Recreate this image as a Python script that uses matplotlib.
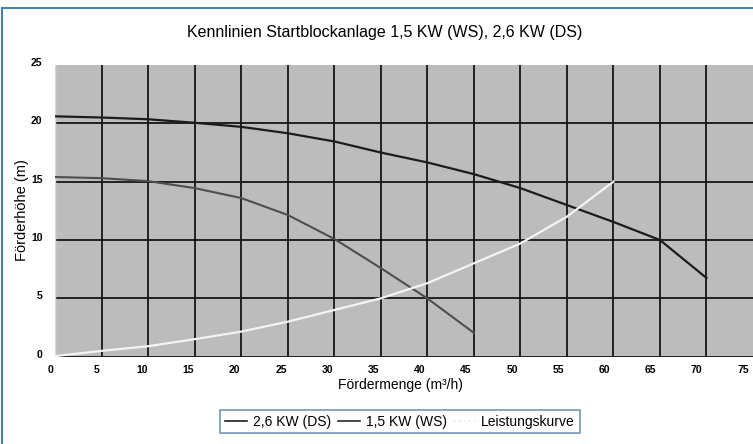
import matplotlib
matplotlib.use("Agg")
import matplotlib.pyplot as plt
import matplotlib.transforms as mtransforms
from matplotlib.lines import Line2D

plt.rcParams["font.family"] = ["Liberation Sans", "DejaVu Sans"]

# Data
ds_x = [0, 5, 10, 15, 20, 25, 30, 35, 40, 45, 50, 55, 60, 65, 70]
ds_y = [20.6, 20.5, 20.35, 20.05, 19.7, 19.15, 18.45, 17.5, 16.65, 15.65, 14.45, 13.0, 11.55, 10.0, 6.75]

ws_x = [0, 5, 10, 15, 20, 25, 30, 35, 40, 45]
ws_y = [15.4, 15.3, 15.05, 14.45, 13.6, 12.15, 10.1, 7.6, 5.0, 2.05]

lk_x = [0, 5, 10, 15, 20, 25, 30, 35, 40, 45, 50, 55, 60]
lk_y = [0.05, 0.5, 0.9, 1.5, 2.15, 3.0, 4.0, 5.0, 6.3, 8.0, 9.7, 12.0, 15.0]

x_ticks = list(range(0, 80, 5))
y_ticks = list(range(0, 30, 5))

labels = ["2,6 KW (DS)", "1,5 KW (WS)", "Leistungskurve"]
title = "Kennlinien Startblockanlage 1,5 KW (WS), 2,6 KW (DS)"

W, H = 753, 444
fig = plt.figure(figsize=(W / 100, H / 100), dpi=100)
fig.patch.set_facecolor("white")

left, right, top, bottom = 55, 753, 65, 356.7
ax = fig.add_axes([left / W, 1 - bottom / H, (right - left) / W, (bottom - top) / H])
ax.set_facecolor("#bcbcbc")
ax.set_xlim(0, 75)
ax.set_ylim(0, 25)

# grid lines (interior + bottom)
for xv in x_ticks:
    if 0 < xv < 75:
        ax.axvline(xv, color="#151515", lw=1.3, zorder=1)
for yv in y_ticks:
    if yv < 25:
        ax.axhline(yv, color="#151515", lw=1.3, zorder=1)

for s in ax.spines.values():
    s.set_visible(False)
ax.axvline(0, color="#d8d8d8", lw=1.0, zorder=1)

ax.plot(ds_x, ds_y, color="#1c1c1c", lw=1.6, zorder=3)
ax.plot(ws_x, ws_y, color="#4e4e4e", lw=1.5, zorder=3)
ax.plot(lk_x, lk_y, color="#f4f4f4", lw=1.6, zorder=3)

ax.set_xticks(x_ticks)
ax.set_yticks(y_ticks)
ax.set_xticklabels([str(v) for v in x_ticks], fontsize=7.5, fontweight="bold")
ax.set_yticklabels([str(v) for v in y_ticks], fontsize=7.5, fontweight="bold")
ax.tick_params(axis="both", length=0)
ax.tick_params(axis="x", pad=6)
ax.tick_params(axis="y", pad=9)
for lbl, v in zip(ax.get_xticklabels(), x_ticks):
    shift = -(5 + 5 * v / 75) / 100
    lbl.set_transform(lbl.get_transform() + mtransforms.ScaledTranslation(shift, 0, fig.dpi_scale_trans))
offy = mtransforms.ScaledTranslation(0, 3 / 100, fig.dpi_scale_trans)
for lbl in ax.get_yticklabels():
    lbl.set_transform(lbl.get_transform() + offy)

fig.text(385 / W, 1 - 33 / H, title, ha="center", va="center", fontsize=11.5)
fig.text(400 / W, 1 - 385 / H, "Fördermenge (m³/h)", ha="center", va="center", fontsize=10)
fig.text(22 / W, 1 - 210 / H, "Förderhöhe (m)", ha="center", va="center", fontsize=10.5, rotation=90)

handles = [
    Line2D([], [], color="#1c1c1c", lw=1.2),
    Line2D([], [], color="#2a2a2a", lw=1.2),
    Line2D([], [], color="#e8e8e8", lw=1.2, linestyle=(0, (1, 2))),
]
leg = fig.legend(handles, labels, loc="center", bbox_to_anchor=(400 / W, 1 - 421.5 / H),
                 ncol=3, fontsize=10, frameon=True, fancybox=False,
                 handlelength=1.6, handletextpad=0.4, columnspacing=0.5,
                 borderpad=0.35)
leg.get_frame().set_edgecolor("#4f7fa6")
leg.get_frame().set_linewidth(1.2)

# outer border (top and left)
fig.add_artist(Line2D([1.5 / W, 1.5 / W], [0, 1 - 8 / H], transform=fig.transFigure,
                      color="#4a7fa8", lw=1.5))
fig.add_artist(Line2D([1.5 / W, 1], [1 - 8 / H, 1 - 8 / H], transform=fig.transFigure,
                      color="#4a7fa8", lw=1.5))

fig.savefig("out.png", dpi=100)
